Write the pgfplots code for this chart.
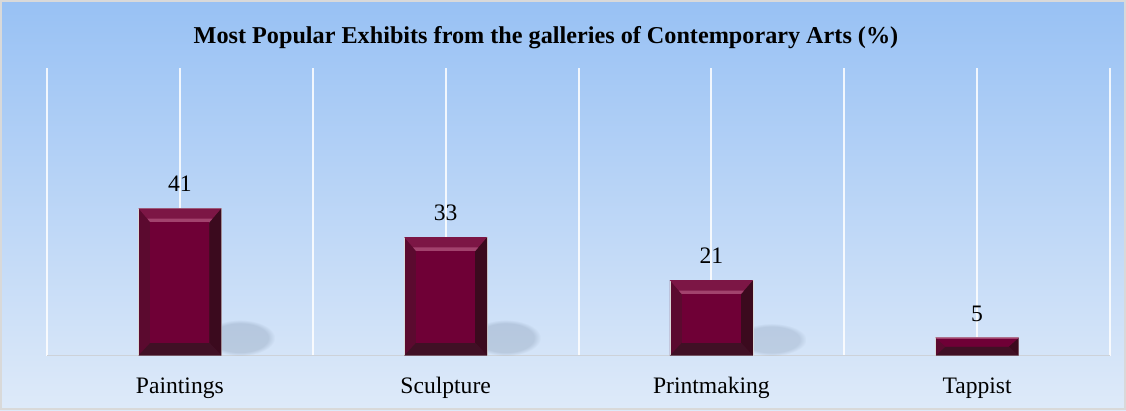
\documentclass[border=0pt]{standalone}
\usepackage{pgfplots}
\pgfplotsset{compat=1.18}
\usepackage{fontspec}
\setmainfont{Liberation Serif}
\usetikzlibrary{fadings}

\definecolor{bgtop}{HTML}{98C1F4}
\definecolor{bgbot}{HTML}{DEEAF9}
\definecolor{framegray}{HTML}{D9D9D9}
\definecolor{axisgray}{HTML}{CDD2D9}
\definecolor{barmain}{HTML}{6F0036}
\definecolor{bevtop}{HTML}{7C1645}
\definecolor{bevhi}{HTML}{A2426D}
\definecolor{bevleft}{HTML}{5B0A2F}
\definecolor{bevright}{HTML}{3B0A1E}
\definecolor{bevbot}{HTML}{401025}
\definecolor{shadowc}{HTML}{6A7D96}

\newcommand{\chartfont}{\fontsize{23.6}{28}\selectfont}

\pgfplotsset{
  bev/.style={draw=none, fill=#1},
}

\begin{document}
\begin{tikzpicture}
% chart area
\shade[top color=bgtop, bottom color=bgbot] (0,0) rectangle (1126pt,410pt);
\draw[framegray, line width=2pt] (1pt,1pt) rectangle (1125pt,409pt);
\node[anchor=base, font=\bfseries\fontsize{24.2}{28}\selectfont] at (546pt,366.7pt)
  {Most Popular Exhibits from the galleries of Contemporary Arts (\%)};

\begin{axis}[
    at={(47pt,54.3pt)}, anchor=south west,
    scale only axis, width=1063pt, height=287.7pt,
    xmin=-0.5, xmax=3.5, ymin=0, ymax=80,
    xtick={0,1,2,3},
    xticklabels={Paintings,Sculpture,Printmaking,Tappist},
    minor xtick={-0.5,0.5,1.5,2.5,3.5},
    xmajorgrids, xminorgrids,
    major grid style={draw=white, line width=2pt, opacity=0.85},
    minor grid style={draw=white, line width=2pt, opacity=0.85},
    ytick=\empty,
    major tick length=0pt, minor tick length=0pt,
    axis x line*=bottom, axis y line=none,
    x axis line style={draw=axisgray, line width=1.5pt, -},
    xticklabel style={font=\chartfont, anchor=base, yshift=-37.4pt},
    /pgf/number format/assume math mode=true,
]
% soft shadows
\addplot[ybar, bar shift=60pt, bar width=70pt, draw=none, fill=shadowc, fill opacity=0.25,
  path fading=circle with fuzzy edge 20 percent] coordinates {(0,10)};
\addplot[ybar, bar shift=60pt, bar width=70pt, draw=none, fill=shadowc, fill opacity=0.25,
  path fading=circle with fuzzy edge 20 percent] coordinates {(1,10)};
\addplot[ybar, bar shift=60pt, bar width=70pt, draw=none, fill=shadowc, fill opacity=0.22,
  path fading=circle with fuzzy edge 20 percent] coordinates {(2,9)};

% full bars (left bevel colour)
\addplot[ybar, bar shift=0pt, bar width=83pt, fill=bevleft, draw=white!70!gray, line width=0.5pt]
  coordinates {(0,41) (1,33) (2,21) (3,5)};

% Paintings 41
\addplot[bev=bevright] coordinates {(0.1561,0) (0.1561,41) (0.1109,37.1) (0.1109,3.6)} --cycle;
\addplot[bev=bevbot] coordinates {(-0.1561,0) (0.1561,0) (0.1109,3.6) (-0.1109,3.6)} --cycle;
\addplot[bev=bevtop] coordinates {(-0.1561,41) (0.1561,41) (0.1109,37.1) (-0.1109,37.1)} --cycle;
\addplot[bev=bevhi] coordinates {(-0.1109,37.1) (0.1109,37.1) (0.1225,38.1) (-0.1225,38.1)} --cycle;
\addplot[bev=barmain] coordinates {(-0.1109,3.6) (0.1109,3.6) (0.1109,37.1) (-0.1109,37.1)} --cycle;

% Sculpture 33
\addplot[bev=bevright] coordinates {(1.1561,0) (1.1561,33) (1.1109,29.1) (1.1109,3.6)} --cycle;
\addplot[bev=bevbot] coordinates {(0.8439,0) (1.1561,0) (1.1109,3.6) (0.8891,3.6)} --cycle;
\addplot[bev=bevtop] coordinates {(0.8439,33) (1.1561,33) (1.1109,29.1) (0.8891,29.1)} --cycle;
\addplot[bev=bevhi] coordinates {(0.8891,29.1) (1.1109,29.1) (1.1225,30.1) (0.8775,30.1)} --cycle;
\addplot[bev=barmain] coordinates {(0.8891,3.6) (1.1109,3.6) (1.1109,29.1) (0.8891,29.1)} --cycle;

% Printmaking 21
\addplot[bev=bevright] coordinates {(2.1561,0) (2.1561,21) (2.1109,17.1) (2.1109,3.6)} --cycle;
\addplot[bev=bevbot] coordinates {(1.8439,0) (2.1561,0) (2.1109,3.6) (1.8891,3.6)} --cycle;
\addplot[bev=bevtop] coordinates {(1.8439,21) (2.1561,21) (2.1109,17.1) (1.8891,17.1)} --cycle;
\addplot[bev=bevhi] coordinates {(1.8891,17.1) (2.1109,17.1) (2.1225,18.1) (1.8775,18.1)} --cycle;
\addplot[bev=barmain] coordinates {(1.8891,3.6) (2.1109,3.6) (2.1109,17.1) (1.8891,17.1)} --cycle;

% Tappist 5
\addplot[bev=bevright] coordinates {(3.1561,0) (3.1561,5) (3.1185,2.5)} --cycle;
\addplot[bev=bevbot] coordinates {(2.8439,0) (3.1561,0) (3.1185,2.5) (2.8815,2.5)} --cycle;
\addplot[bev=barmain] coordinates {(2.8439,5) (3.1561,5) (3.1185,2.5) (2.8815,2.5)} --cycle;
\addplot[bev=bevhi] coordinates {(2.8439,5) (3.1561,5) (3.1520,4.7) (2.8480,4.7)} --cycle;

% values
\addplot[ybar, bar shift=0pt, bar width=83pt, draw=none, fill=none, nodes near coords,
  every node near coord/.append style={font=\chartfont, text=black, anchor=base, yshift=16.6pt}]
  coordinates {(0,41) (1,33) (2,21) (3,5)};
\end{axis}
\end{tikzpicture}
\end{document}
